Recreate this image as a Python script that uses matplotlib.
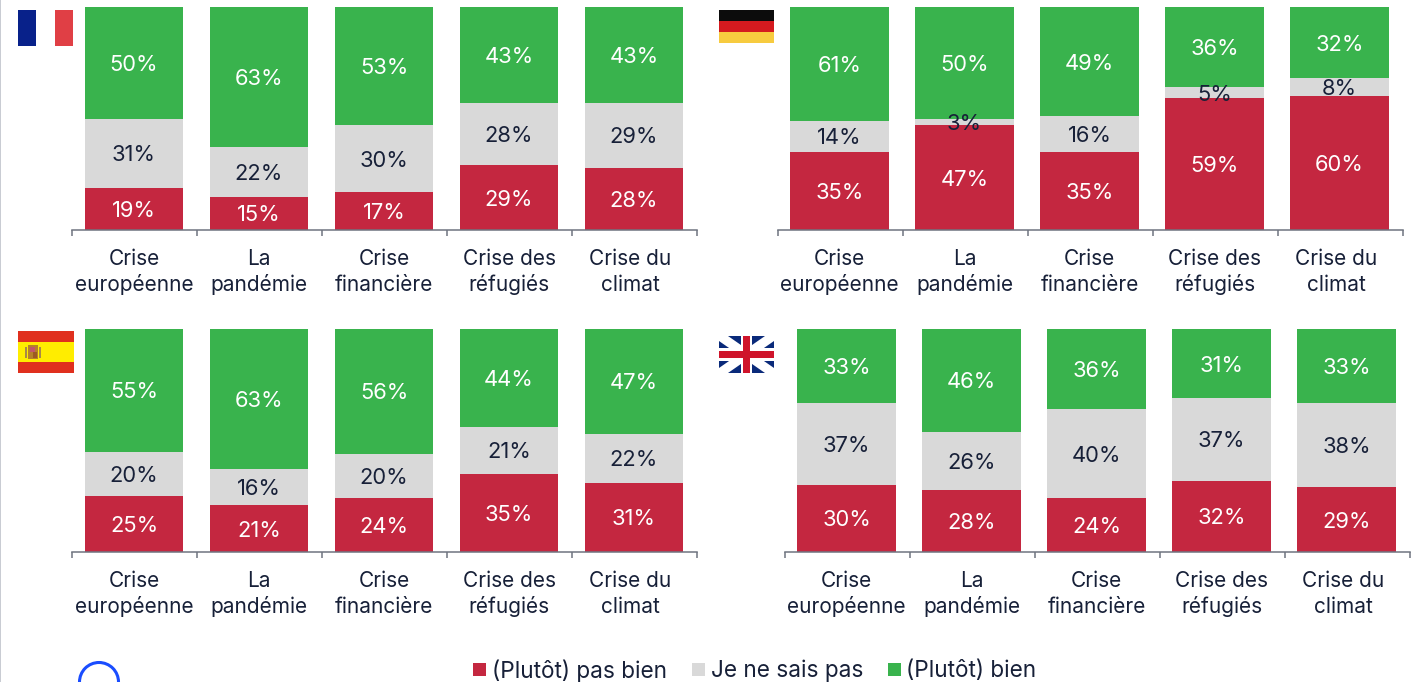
import matplotlib
matplotlib.use('Agg')
import matplotlib.pyplot as plt
from matplotlib.patches import Rectangle, Circle, Polygon

plt.rcParams['font.family'] = ['Inter', 'DejaVu Sans']

categories = ['Crise\neuropéenne', 'La\npandémie', 'Crise\nfinancière', 'Crise des\nréfugiés', 'Crise du\nclimat']
series_names = ['(Plutôt) pas bien', 'Je ne sais pas', '(Plutôt) bien']

fr_bad = [19, 15, 17, 29, 28]
fr_dk = [31, 22, 30, 28, 29]
fr_good = [50, 63, 53, 43, 43]

de_bad = [35, 47, 35, 59, 60]
de_dk = [14, 3, 16, 5, 8]
de_good = [61, 50, 49, 36, 32]
# the first green bar of the source is drawn shorter than its label says
de_good_height = [51, 50, 49, 36, 32]

es_bad = [25, 21, 24, 35, 31]
es_dk = [20, 16, 20, 21, 22]
es_good = [55, 63, 56, 44, 47]

uk_bad = [30, 28, 24, 32, 29]
uk_dk = [37, 26, 40, 37, 38]
uk_good = [33, 46, 36, 31, 33]

RED = '#c42740'
GREY = '#d9d9d9'
GREEN = '#39b34d'
INK = '#172038'
W, H = 1416, 682
FS_VAL = 15.8
FS_CAT = 15.0
FS_LEG = 16.25

fig = plt.figure(figsize=(W / 100, H / 100), dpi=100)


def panel(left, base, bad, dk, good, good_h=None):
    ax = fig.add_axes([left / W, (H - base) / H, 625 / W, 223 / H])
    if good_h is None:
        good_h = good
    x = range(len(categories))
    bottom = [0] * 5
    for vals, col, txt, shown in [(bad, RED, 'white', bad), (dk, GREY, INK, dk), (good_h, GREEN, 'white', good)]:
        ax.bar(x, vals, 0.79, bottom=bottom, color=col)
        for i in x:
            ax.annotate('%d%%' % shown[i], (i, bottom[i] + vals[i] / 2), xytext=(0, -1.4),
                        textcoords='offset points', ha='center', va='center', color=txt, fontsize=FS_VAL)
        bottom = [bottom[i] + vals[i] for i in x]
    ax.set_xlim(-0.496, 4.504)
    ax.set_ylim(0, 100)
    for s in ['top', 'left', 'right']:
        ax.spines[s].set_visible(False)
    ax.spines['bottom'].set_color('#6f7480')
    ax.spines['bottom'].set_linewidth(1.1)
    ax.set_yticks([])
    ax.set_xticks([-0.496, 0.504, 1.504, 2.504, 3.504, 4.504])
    ax.set_xticklabels([])
    ax.tick_params(axis='x', which='major', length=4.5, width=1.1, color='#6f7480')
    # two baselines per label, 26 px apart; the last label sits a little left of its bar
    for i, cat in enumerate(categories):
        dx = -2.5 if i == 4 else 0
        for line, off in zip(cat.split('\n'), [-25.2, -43.9]):
            ax.annotate(line, (i, 0), xytext=(dx, off), textcoords='offset points', ha='center',
                        va='baseline', color=INK, fontsize=FS_CAT, annotation_clip=False)
    return ax


panel(72, 230, fr_bad, fr_dk, fr_good)
panel(777.5, 230, de_bad, de_dk, de_good, de_good_height)
panel(72, 552, es_bad, es_dk, es_good)
panel(784.5, 552, uk_bad, uk_dk, uk_good)

# overlay in pixel coordinates for the flags, legend and page decorations
top = fig.add_axes([0, 0, 1, 1], facecolor='none')
top.set_xlim(0, W)
top.set_ylim(H, 0)
top.axis('off')


def rect(x, y, w, h, c):
    top.add_patch(Rectangle((x, y), w, h, facecolor=c, edgecolor='none'))


# page edge
rect(0, 0, 1.2, H, '#c9ccd3')

# France
rect(18, 10, 18, 36, '#08218a')
rect(55, 10, 18, 36, '#e03f45')

# Germany
rect(719, 10, 55, 11, '#0c0c0c')
rect(719, 21, 55, 11, '#d41a1f')
rect(719, 32, 55, 11, '#f7cb3f')

# Spain
rect(18, 331, 56, 11, '#e0301e')
rect(18, 342, 56, 20, '#ffed00')
rect(18, 362, 56, 11, '#e0301e')
rect(25, 347, 2, 11, '#a8884a')
rect(39, 347, 2, 11, '#a8884a')
rect(28, 345, 10, 14, '#b5802a')
rect(30, 347, 5, 5, '#c0566a')
rect(33, 352, 4, 6, '#9c5a22')

# UK
rect(719, 336, 55, 37, '#0a2a7a')
for pts in [[(719, 336), (728, 336), (774, 368), (774, 373), (765, 373), (719, 341)],
            [(774, 336), (765, 336), (719, 368), (719, 373), (728, 373), (774, 341)]]:
    top.add_patch(Polygon(pts, facecolor='white', edgecolor='none'))
rect(741, 336, 11, 37, 'white')
rect(719, 348, 55, 13, 'white')
rect(743, 336, 7, 37, '#cf142b')
rect(719, 351, 55, 7, '#cf142b')

# legend
for px, name, col, tx in zip([473, 692, 888], series_names, [RED, GREY, GREEN], [492, 711, 906]):
    rect(px, 663, 13, 13, col)
    top.text(tx, 671, name, ha='left', va='center', fontsize=FS_LEG, color=INK)

# cut off blue ring
top.add_patch(Circle((99, 682), 19.5, facecolor='none', edgecolor='#1a4dff', linewidth=2.2))

fig.savefig('out.png', dpi=100)
